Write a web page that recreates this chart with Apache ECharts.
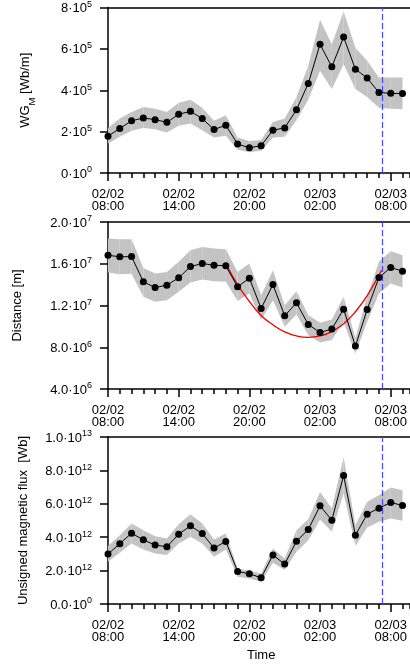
<!DOCTYPE html>
<html>
<head>
<meta charset="utf-8">
<script src="https://cdn.jsdelivr.net/npm/echarts@6/dist/echarts.min.js"></script>
<style>
html, body { margin: 0; padding: 0; background: #fff; }
#main { width: 410px; height: 669px; }
</style>
</head>
<body>
<div id="main"></div>
<script>
var FONT = '"Liberation Sans", Arial, Helvetica, sans-serif';

// hours after 02/02 08:00
var hours = [0, 1, 2, 3, 4, 5, 6, 7, 8, 9, 10, 11, 12, 13, 14, 15, 16, 17, 18, 19, 20, 21, 22, 23, 24, 25];
var xTickLabels = ['02/02\n08:00', '02/02\n14:00', '02/02\n20:00', '02/03\n02:00', '02/03\n08:00'];
var xEnd = 25.6;     // right edge of the plots
var markHour = 23.3; // blue dashed line

// WG_M  (x 1e5 Wb/m)
var wgVal  = [1.78, 2.15, 2.52, 2.66, 2.58, 2.45, 2.84, 2.98, 2.63, 2.10, 2.31, 1.40, 1.22, 1.32, 2.07, 2.18, 3.06, 4.33, 6.22, 5.13, 6.57, 5.02, 4.59, 3.89, 3.85, 3.84];
var wgLow  = [1.43, 1.75, 2.04, 2.18, 2.12, 1.96, 2.28, 2.39, 2.07, 1.71, 1.80, 1.12, 1.00, 1.07, 1.72, 1.75, 2.55, 3.54, 4.94, 4.06, 5.26, 4.06, 3.67, 3.16, 3.11, 3.08];
var wgHigh = [2.18, 2.63, 2.95, 3.19, 3.11, 2.95, 3.40, 3.54, 3.16, 2.52, 2.79, 1.72, 1.55, 1.59, 2.47, 2.63, 3.67, 5.18, 7.41, 6.22, 7.81, 6.06, 5.42, 4.62, 4.62, 4.62];
var wgTicks = ['0·10^0', '2·10^5', '4·10^5', '6·10^5', '8·10^5'];

// Distance (x 1e6 m)
var distVal  = [16.82, 16.66, 16.69, 14.27, 13.72, 13.95, 14.65, 15.73, 16.02, 15.86, 15.80, 13.79, 14.62, 11.71, 14.01, 11.01, 12.26, 10.18, 9.42, 9.74, 11.65, 8.11, 11.62, 14.68, 15.64, 15.29];
var distLow  = [15.16, 15.00, 15.03, 12.83, 12.35, 12.51, 13.31, 14.20, 14.49, 14.33, 14.27, 12.42, 13.15, 10.60, 12.51, 9.96, 11.14, 9.16, 8.46, 8.69, 10.44, 7.35, 10.44, 13.15, 14.11, 13.72];
var distHigh = [18.41, 18.35, 18.35, 15.60, 15.06, 15.22, 16.18, 17.29, 17.61, 17.45, 17.39, 15.22, 16.02, 12.99, 15.38, 12.03, 13.37, 11.08, 10.34, 10.66, 12.83, 8.91, 12.83, 16.18, 17.20, 16.82];
var distTicks = ['4.0·10^6', '8.0·10^6', '1.2·10^7', '1.6·10^7', '2.0·10^7'];
// red fit curve
var fitHours = [10.08, 11, 12, 13, 14, 15, 16, 17, 18, 19, 20, 21, 22, 23.22];
var fitVal   = [15.86, 14.0, 12.4, 11.05, 10.15, 9.48, 9.08, 8.94, 9.08, 9.5, 10.25, 11.4, 12.95, 15.38];

// Unsigned magnetic flux (x 1e12 Wb)
var fluxVal  = [2.99, 3.61, 4.24, 3.84, 3.53, 3.43, 4.18, 4.68, 4.22, 3.35, 3.75, 1.95, 1.81, 1.57, 2.93, 2.39, 3.76, 4.46, 5.88, 5.02, 7.69, 4.12, 5.38, 5.74, 6.08, 5.90];
var fluxLow  = [2.53, 3.07, 3.63, 3.27, 3.03, 2.93, 3.63, 4.02, 3.63, 2.83, 3.27, 1.63, 1.53, 1.33, 2.47, 2.03, 3.13, 3.82, 5.06, 4.32, 6.61, 3.47, 4.58, 4.92, 5.12, 4.98];
var fluxHigh = [3.47, 4.12, 4.82, 4.42, 4.06, 3.92, 4.78, 5.38, 4.82, 3.86, 4.22, 2.13, 1.99, 1.83, 3.33, 2.73, 4.42, 5.08, 6.71, 5.72, 8.80, 4.72, 6.12, 6.51, 6.97, 6.81];
var fluxTicks = ['0.0·10^0', '2.0·10^12', '4.0·10^12', '6.0·10^12', '8.0·10^12', '1.0·10^13'];

var myChart = echarts.init(document.getElementById('main'));

function pts(xs, vals, scale) {
    return xs.map(function (h, i) { return [h, vals[i] * scale]; });
}

// one row per segment: [h0, low0, high0, h1, low1, high1]
function bandRows(low, high, scale) {
    var rows = [];
    for (var i = 0; i < hours.length - 1; i++) {
        rows.push([hours[i], low[i] * scale, high[i] * scale, hours[i + 1], low[i + 1] * scale, high[i + 1] * scale]);
    }
    return rows;
}

function renderBand(params, api) {
    var a = api.coord([api.value(0), api.value(1)]);
    var b = api.coord([api.value(0), api.value(2)]);
    var c = api.coord([api.value(3), api.value(5)]);
    var d = api.coord([api.value(3), api.value(4)]);
    return {
        type: 'polygon',
        shape: { points: [a, b, c, d] },
        style: { fill: '#c3c3c3', stroke: null }
    };
}

function tickRich(str) {
    var p = str.split('^');
    return '{b|' + p[0] + '}{s|' + p[1] + '}';
}

var supRich = {
    b: { fontSize: 13, lineHeight: 15, verticalAlign: 'bottom', fontFamily: FONT, color: '#000' },
    s: { fontSize: 9, lineHeight: 10, verticalAlign: 'top', padding: [0, 0, 8, 0], fontFamily: FONT, color: '#000' }
};

var panels = [
    { top: 6,   min: 0,   max: 8e5,  step: 2e5,  ticks: wgTicks,   scale: 1e5,  val: wgVal,   low: wgLow,   high: wgHigh,
      name: '{a|WG}{sub|M}{a| [Wb/m]}', gap: 74 },
    { top: 222, min: 4e6, max: 2e7,  step: 4e6,  ticks: distTicks, scale: 1e6,  val: distVal, low: distLow, high: distHigh,
      name: 'Distance [m]', gap: 84 },
    { top: 437, min: 0,   max: 1e13, step: 2e12, ticks: fluxTicks, scale: 1e12, val: fluxVal, low: fluxLow, high: fluxHigh,
      name: 'Unsigned magnetic flux  [Wb]', gap: 78 }
];

var grid = [], xAxis = [], yAxis = [], series = [];
var blackLine = { color: '#000', width: 1.5 };

panels.forEach(function (p, k) {
    grid.push({ left: 108, top: p.top, right: 0, height: 167 });

    // bottom time axis, major ticks every 6 h
    xAxis.push({
        type: 'value', gridIndex: k, position: 'bottom',
        min: 0, max: xEnd, interval: 6,
        axisLine: { show: true, onZero: false, lineStyle: blackLine },
        axisTick: { show: true, length: 8, lineStyle: blackLine },
        splitLine: { show: false },
        axisLabel: {
            margin: 15, fontSize: 13, lineHeight: 12.5, color: '#000', fontFamily: FONT,
            showMaxLabel: false,
            formatter: function (v) { return v % 6 === 0 ? (xTickLabels[v / 6] || '') : ''; }
        }
    });
    // hourly small ticks
    xAxis.push({
        type: 'value', gridIndex: k, position: 'bottom',
        min: 0, max: xEnd, interval: 1,
        axisLine: { show: false },
        axisTick: { show: true, length: 5, lineStyle: blackLine },
        axisLabel: { show: false }, splitLine: { show: false }
    });
    // top frame line
    xAxis.push({
        type: 'value', gridIndex: k, position: 'top', min: 0, max: xEnd,
        axisLine: { show: true, onZero: false, lineStyle: blackLine },
        axisTick: { show: false }, axisLabel: { show: false }, splitLine: { show: false }
    });

    yAxis.push({
        type: 'value', gridIndex: k, min: p.min, max: p.max, interval: p.step,
        axisLine: { show: true, onZero: false, lineStyle: blackLine },
        axisTick: { show: true, length: 8, lineStyle: blackLine },
        splitLine: { show: false },
        axisLabel: {
            margin: 16,
            formatter: (function (ticks) { return function (v, i) { return tickRich(ticks[i]); }; })(p.ticks),
            rich: supRich
        },
        name: p.name, nameLocation: 'middle', nameRotate: 90, nameGap: p.gap,
        nameTextStyle: {
            fontSize: 13, color: '#000', fontFamily: FONT,
            rich: {
                a: { fontSize: 13, lineHeight: 15, verticalAlign: 'top', fontFamily: FONT, color: '#000' },
                sub: { fontSize: 9.5, lineHeight: 10, verticalAlign: 'top', padding: [8, 0, 0, 0], fontFamily: FONT, color: '#000' }
            }
        }
    });

    var xi = k * 3;
    // uncertainty band
    series.push({
        type: 'custom', xAxisIndex: xi, yAxisIndex: k,
        renderItem: renderBand,
        data: bandRows(p.low, p.high, p.scale),
        encode: { x: [0, 3], y: [1, 2, 4, 5] },
        silent: true, z: 1
    });
    // measured values
    series.push({
        type: 'line', xAxisIndex: xi, yAxisIndex: k,
        data: pts(hours, p.val, p.scale),
        symbol: 'circle', symbolSize: 7,
        itemStyle: { color: '#000' }, lineStyle: { color: '#000', width: 1 }, z: 5,
        markLine: {
            silent: true, symbol: 'none', label: { show: false },
            lineStyle: { color: '#4646ff', type: [6, 3], width: 1.2 },
            data: [{ xAxis: markHour }]
        }
    });
});

// red fit on the distance panel
series.push({
    type: 'line', xAxisIndex: 3, yAxisIndex: 1,
    data: pts(fitHours, fitVal, 1e6),
    smooth: true, symbol: 'none',
    lineStyle: { color: '#ee0000', width: 1.3 }, z: 4
});

option = {
    animation: false,
    backgroundColor: '#fff',
    grid: grid,
    xAxis: xAxis,
    yAxis: yAxis,
    series: series,
    graphic: [{
        type: 'text', left: 247, top: 649,
        style: { text: 'Time', fontSize: 13, fontFamily: FONT, fill: '#000' }
    }]
};

myChart.setOption(option);
</script>
</body>
</html>
